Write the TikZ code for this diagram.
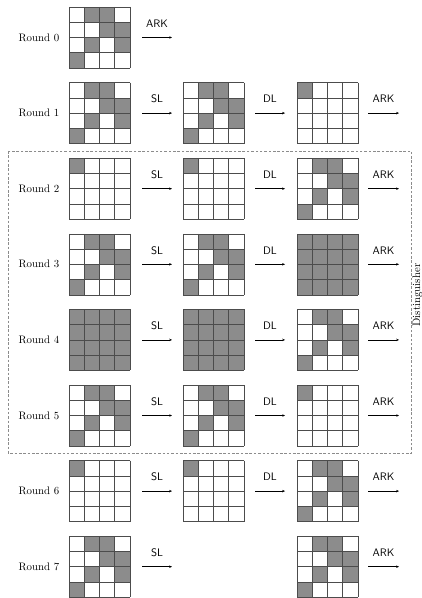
\documentclass[tikz,border=0pt]{standalone}
\usetikzlibrary{arrows.meta}
\definecolor{cellgray}{gray}{0.55}
\definecolor{linegray}{gray}{0.3}
\definecolor{boxgray}{gray}{0.55}
\newcommand{\cellsA}{1/0,2/0,2/1,3/1,1/2,3/2,0/3}
\newcommand{\cellsB}{0/0}
\newcommand{\cellsF}{0/0,1/0,2/0,3/0,0/1,1/1,2/1,3/1,0/2,1/2,2/2,3/2,0/3,1/3,2/3,3/3}
\tikzset{
  gridbox/.style={minimum size=56.12pt, inner sep=0pt},
  gridline/.style={draw=linegray, line width=0.5pt},
  cellfill/.style={fill=cellgray},
  roundlbl/.style={font=\fontsize{10}{12}\selectfont, inner sep=0pt},
  oplbl/.style={font=\sffamily\fontsize{10}{12}\selectfont, inner sep=0pt, midway, yshift=12.9pt},
  arr/.style={line width=0.4pt, -{Stealth[length=2.6pt,width=2.2pt]}},
  distbox/.style={draw=boxgray, dashed, dash pattern=on 2.4pt off 1.6pt, line width=0.45pt}
}
% #1 name, #2 left x, #3 top y, #4 cell list
\newcommand{\drawgrid}[4]{%
  \node[gridbox] (#1) at ({#2+30.5},{#3+30.5}) {};
  \foreach \c/\r in #4 {\fill[cellfill] ({#2+\c*15.25},{#3+\r*15.25}) rectangle ++(15.25,15.25);}
  \foreach \k in {0,...,4} {%
    \draw[gridline] ({#2+\k*15.25},#3) -- ++(0,61);
    \draw[gridline] (#2,{#3+\k*15.25}) -- ++(61,0);}
}
% #1 name, #2 x1, #3 x2, #4 y, #5 label
\newcommand{\oparrow}[5]{%
  \coordinate (#1s) at (#2,#4);
  \coordinate (#1e) at (#3,#4);
  \draw[arr] (#1s) -- node[oplbl] {#5} (#1e);
}
\begin{document}
\begin{tikzpicture}[x=0.92pt, y=-0.92pt]
\useasboundingbox (0,0) rectangle (421,598);
% dashed distinguisher box
\draw[distbox] (8,151) rectangle (411.5,453);
\node[roundlbl, rotate=90] (dist) at (417.5,295) {Distinguisher};
% Round 0
\node[roundlbl] (r0) at (39,37.5) {Round 0};
\drawgrid{g01}{69}{7}{\cellsA}
\oparrow{a01}{142}{172}{37.5}{ARK}
% Round 1
\node[roundlbl] (r1) at (39,113.1) {Round 1};
\drawgrid{g11}{69}{82.6}{\cellsA}
\drawgrid{g12}{183}{82.6}{\cellsA}
\drawgrid{g13}{297}{82.6}{\cellsB}
\oparrow{a11}{142}{172}{113.1}{SL}
\oparrow{a12}{255}{285}{113.1}{DL}
\oparrow{a13}{368}{399}{113.1}{ARK}
% Round 2
\node[roundlbl] (r2) at (39,188.7) {Round 2};
\drawgrid{g21}{69}{158.2}{\cellsB}
\drawgrid{g22}{183}{158.2}{\cellsB}
\drawgrid{g23}{297}{158.2}{\cellsA}
\oparrow{a21}{142}{172}{188.7}{SL}
\oparrow{a22}{255}{285}{188.7}{DL}
\oparrow{a23}{368}{399}{188.7}{ARK}
% Round 3
\node[roundlbl] (r3) at (39,264.3) {Round 3};
\drawgrid{g31}{69}{233.8}{\cellsA}
\drawgrid{g32}{183}{233.8}{\cellsA}
\drawgrid{g33}{297}{233.8}{\cellsF}
\oparrow{a31}{142}{172}{264.3}{SL}
\oparrow{a32}{255}{285}{264.3}{DL}
\oparrow{a33}{368}{399}{264.3}{ARK}
% Round 4
\node[roundlbl] (r4) at (39,339.9) {Round 4};
\drawgrid{g41}{69}{309.4}{\cellsF}
\drawgrid{g42}{183}{309.4}{\cellsF}
\drawgrid{g43}{297}{309.4}{\cellsA}
\oparrow{a41}{142}{172}{339.9}{SL}
\oparrow{a42}{255}{285}{339.9}{DL}
\oparrow{a43}{368}{399}{339.9}{ARK}
% Round 5
\node[roundlbl] (r5) at (39,415.5) {Round 5};
\drawgrid{g51}{69}{385}{\cellsA}
\drawgrid{g52}{183}{385}{\cellsA}
\drawgrid{g53}{297}{385}{\cellsB}
\oparrow{a51}{142}{172}{415.5}{SL}
\oparrow{a52}{255}{285}{415.5}{DL}
\oparrow{a53}{368}{399}{415.5}{ARK}
% Round 6
\node[roundlbl] (r6) at (39,491.1) {Round 6};
\drawgrid{g61}{69}{460.6}{\cellsB}
\drawgrid{g62}{183}{460.6}{\cellsB}
\drawgrid{g63}{297}{460.6}{\cellsA}
\oparrow{a61}{142}{172}{491.1}{SL}
\oparrow{a62}{255}{285}{491.1}{DL}
\oparrow{a63}{368}{399}{491.1}{ARK}
% Round 7
\node[roundlbl] (r7) at (39,566.7) {Round 7};
\drawgrid{g71}{69}{536.2}{\cellsA}
\drawgrid{g73}{297}{536.2}{\cellsA}
\oparrow{a71}{142}{172}{566.7}{SL}
\oparrow{a73}{368}{399}{566.7}{ARK}
\end{tikzpicture}
\end{document}
